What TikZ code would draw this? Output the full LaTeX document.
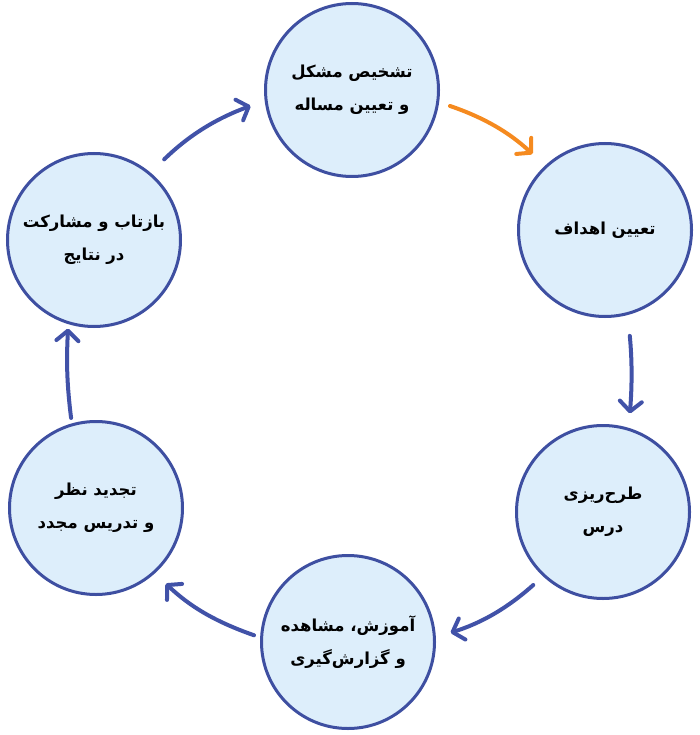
\documentclass[tikz,border=0pt]{standalone}
\usepackage{fontspec}
\TeXXeTstate=1
\newfontfamily\arabicfont[Script=Arabic]{DejaVu Sans}
\usetikzlibrary{arrows.meta}
\definecolor{cborder}{HTML}{3E4FA1}
\definecolor{carrow}{HTML}{4152A8}
\definecolor{cfill}{HTML}{DDEEFB}
\definecolor{corange}{HTML}{F58A1F}
\begin{document}
\begin{tikzpicture}[x=1pt,y=-1pt,
  stage/.style={circle, draw=cborder, line width=3pt, fill=cfill,
    minimum size=173pt, inner sep=0pt, align=center,
    font=\arabicfont\bfseries\fontsize{16.5}{33}\selectfont},
  flow/.style={draw=carrow, line width=4pt, line cap=round,
    -{Straight Barb[length=10pt, width=22pt, line cap=round, line join=round]}},
  orangeflow/.style={flow, draw=corange}
]
\useasboundingbox (0,0) rectangle (700,735);
\node[stage] (a) at (352,90)  {\beginR تشخیص مشکل\endR\\\beginR و تعیین مساله\endR};
\node[stage] (b) at (605,230) {\beginR تعیین اهداف\endR};
\node[stage] (c) at (603,512) {\beginR طرح‌ریزی\endR\\\beginR درس\endR};
\node[stage] (d) at (348,642) {\beginR آموزش، مشاهده\endR\\\beginR و گزارش‌گیری\endR};
\node[stage] (e) at (96,508)  {\beginR تجدید نظر\endR\\\beginR و تدریس مجدد\endR};
\node[stage] (f) at (94,240)  {\beginR بازتاب و مشارکت\endR\\\beginR در نتایج\endR};

\draw[orangeflow, shorten <=11.5pt, shorten >=17pt] (a.-8.7) to[bend left=12] (b.133);
\draw[flow, shorten <=21pt, shorten >=14.5pt] (b.-75.8) to[bend left=5] (c.73.8);
\draw[flow, shorten <=13pt, shorten >=15.5pt] (c.-133) to[bend left=12] (d.3.8);
\draw[flow, shorten <=6.5pt, shorten >=15pt] (d.177) to[bend left=12] (e.-48.1);
\draw[flow, shorten <=5.5pt, shorten >=4.5pt] (e.106.5) to[bend left=5] (f.-107.1);
\draw[flow, shorten <=19pt, shorten >=15pt] (f.50.3) to[bend left=12] (a.187.3);
\end{tikzpicture}
\end{document}
